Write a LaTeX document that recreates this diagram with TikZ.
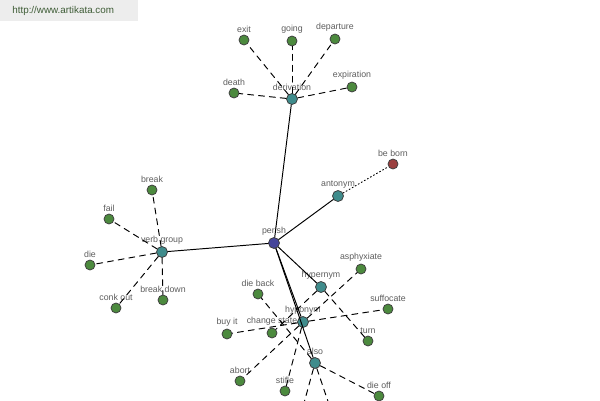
\documentclass[tikz,border=0pt]{standalone}
\usepackage{fontspec}
\setmainfont{Liberation Sans}
\usepackage{xcolor}
\definecolor{wordgreen}{HTML}{4C8A3E}
\definecolor{reltea}{HTML}{3F8C8C}
\definecolor{rootblue}{HTML}{46469A}
\definecolor{antired}{HTML}{9A3E3E}
\definecolor{lblgray}{HTML}{5E5E5E}
\definecolor{sitegreen}{HTML}{3E5C36}

\begin{document}
\begin{tikzpicture}[x=0.02cm,y=-0.02cm,line cap=round,
  font=\fontsize{5}{6}\selectfont,
  lbl/.style={text=lblgray,inner sep=1pt},
  word/.style={circle,draw=black!75,line width=0.45pt,fill=wordgreen,inner sep=0pt,minimum size=0.2cm,label={[lbl]above:#1}},
  rel/.style={word=#1,fill=reltea,minimum size=0.22cm},
  root/.style={word=#1,fill=rootblue,minimum size=0.22cm},
  anti/.style={word=#1,fill=antired},
  link/.style={line width=0.55pt},
  dlink/.style={line width=0.55pt,dash pattern=on 3.4pt off 2.8pt},
  olink/.style={line width=0.55pt,dash pattern=on 0.6pt off 1.4pt}]
\useasboundingbox (0,0) rectangle (600,400);
\clip (0,0) rectangle (600,400);
\fill[white] (0,0) rectangle (600,400);
\fill[black!7] (0,0) rectangle (138,21);
\node[anchor=west,text=sitegreen,font=\fontsize{5.6}{6}\selectfont,inner sep=0pt] (site) at (12,11) {http://www.artikata.com};

% centre and relations
\node[root=perish] (perish) at (274,243) {};
\node[rel=derivation] (deriv) at (292,99) {};
\node[rel=antonym] (anton) at (338,196) {};
\node[rel=verb group] (vgroup) at (162,252) {};
\node[rel=hypernym] (hyper) at (321,287) {};
\node[rel=hyponym] (hypo) at (303,322) {};
\node[rel=also] (also) at (315,363) {};

% words
\node[word=exit] (exit) at (244,40) {};
\node[word=going] (going) at (292,41) {};
\node[word=departure] (depart) at (335,39) {};
\node[word=death] (death) at (234,93) {};
\node[word=expiration] (expir) at (352,87) {};
\node[anti=be born] (beborn) at (393,164) {};
\node[word=break] (break) at (152,190) {};
\node[word=fail] (fail) at (109,219) {};
\node[word=die] (die) at (90,265) {};
\node[word=conk out] (conk) at (116,308) {};
\node[word=break down] (bdown) at (163,300) {};
\node[word=asphyxiate] (asphyx) at (361,269) {};
\node[word=suffocate] (suffoc) at (388,309) {};
\node[word=turn] (turn) at (368,341) {};
\node[word=die back] (dieback) at (258,294) {};
\node[word=change state] (chstate) at (272,333) {};
\node[word=buy it] (buyit) at (227,334) {};
\node[word=abort] (abort) at (240,381) {};
\node[word=stifle] (stifle) at (285,391) {};
\node[word=die off] (dieoff) at (379,396) {};
\coordinate (offa) at (298,425);
\coordinate (offb) at (336,425);

% solid links from perish
\draw[link] (perish) -- (deriv);
\draw[link] (perish) -- (anton);
\draw[link] (perish) -- (vgroup);
\draw[link] (perish) -- (hyper);
\draw[link] (perish) -- (hypo);
\draw[link] (perish) -- (also);
\draw[olink] (anton) -- (beborn);

% dashed links
\foreach \w in {exit,going,depart,death,expir}
  \draw[dlink] (deriv) -- (\w);
\foreach \w in {break,fail,die,conk,bdown}
  \draw[dlink] (vgroup) -- (\w);
\foreach \w in {chstate,turn}
  \draw[dlink] (hyper) -- (\w);
\foreach \w in {asphyx,suffoc,buyit,abort,stifle}
  \draw[dlink] (hypo) -- (\w);
\foreach \w in {dieback,dieoff,offa,offb}
  \draw[dlink] (also) -- (\w);
\end{tikzpicture}
\end{document}
